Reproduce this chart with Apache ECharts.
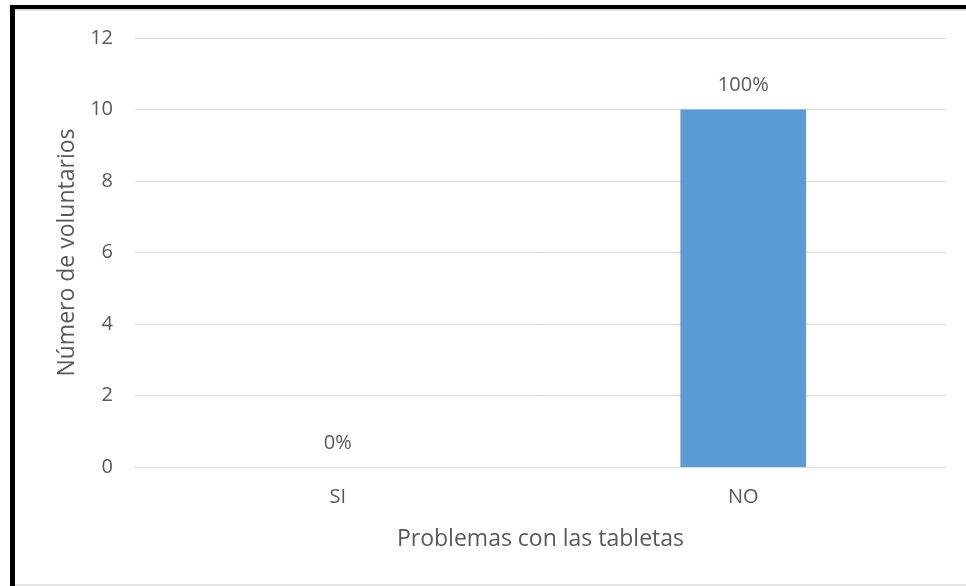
<!DOCTYPE html>
<html>
<head>
<meta charset="utf-8">
<script src="https://cdn.jsdelivr.net/npm/echarts@6/dist/echarts.min.js"></script>
<style>
html,body{margin:0;padding:0;background:#fff;}
#c{width:966px;height:586px;}
</style>
</head>
<body>
<div id="c"></div>
<script>
const categories = ['SI', 'NO'];
const values = [0, 10];
const labels = ['0%', '100%'];

const chart = echarts.init(document.getElementById('c'));
const font = "'Open Sans', 'Liberation Sans', sans-serif";
chart.setOption({
  animation: false,
  backgroundColor: '#fff',
  textStyle: { fontFamily: font },
  graphic: [
    { type: 'rect', shape: { x: 10, y: 5, width: 956, height: 4 }, style: { fill: '#000' }, z: 100 },
    { type: 'rect', shape: { x: 10, y: 5, width: 5, height: 581 }, style: { fill: '#000' }, z: 100 },
    { type: 'rect', shape: { x: 15, y: 9, width: 951, height: 2 }, style: { fill: '#e0e0e0' }, z: 99 },
    { type: 'rect', shape: { x: 15, y: 584, width: 951, height: 2 }, style: { fill: '#e6e6e6' }, z: 99 }
  ],
  grid: { left: 135, right: 20, top: 38, bottom: 119, containLabel: false },
  xAxis: {
    type: 'category',
    data: categories,
    name: 'Problemas con las tabletas',
    nameLocation: 'middle',
    nameGap: 61,
    nameTextStyle: { color: '#595959', fontSize: 23, fontFamily: font },
    axisLine: { show: true, lineStyle: { color: '#d9d9d9', width: 1 } },
    axisTick: { show: false },
    axisLabel: { color: '#595959', fontSize: 20, margin: 20, fontFamily: font }
  },
  yAxis: {
    type: 'value',
    min: 0, max: 12, interval: 2,
    name: 'Número de voluntarios',
    nameLocation: 'middle',
    nameGap: 54,
    nameRotate: 90,
    nameTextStyle: { color: '#595959', fontSize: 23, fontFamily: font },
    axisLine: { show: false },
    axisTick: { show: false },
    axisLabel: { color: '#595959', fontSize: 20, margin: 22, fontFamily: font },
    splitLine: { lineStyle: { color: '#d9d9d9', width: 1 } }
  },
  series: [{
    type: 'bar',
    data: values,
    barWidth: '31%',
    itemStyle: { color: '#5b9bd5' },
    label: {
      show: true,
      position: 'top',
      distance: 14,
      color: '#595959',
      fontSize: 20,
      fontFamily: font,
      formatter: p => labels[p.dataIndex]
    }
  }]
});
</script>
</body>
</html>
